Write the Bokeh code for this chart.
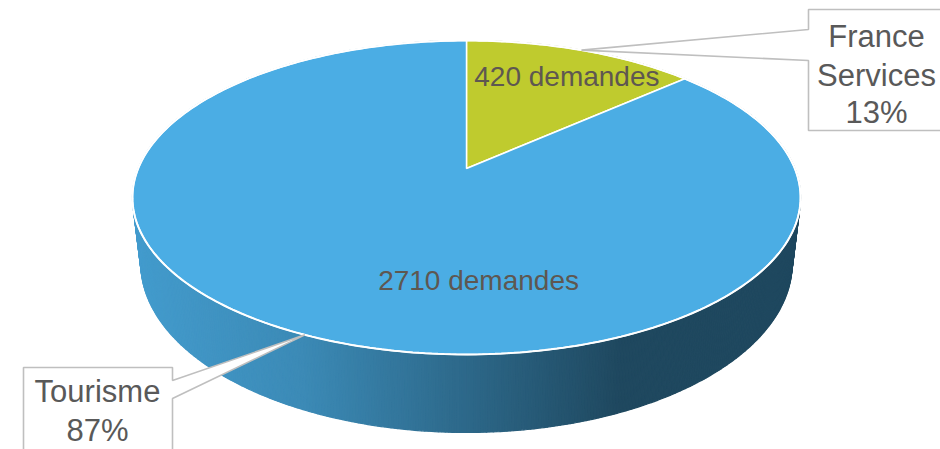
import numpy as np
from bokeh.plotting import figure
from bokeh.models import Range1d
from bokeh.embed import file_html
from bokeh.resources import INLINE
from bokeh.core.properties import value

# ---- data ----
categories = ["France Services", "Tourisme"]
demandes = [420, 2710]
slice_colors = ["#BFCB2E", "#4BADE4"]
label_suffix = " demandes"

# ---- style / geometry ----
W, H = 940, 449
CX, CY = 466.0, 168.0      # projected centre of the top face
A, B = 328.3, 151.6        # radii
K = 0.1847                 # perspective factor
DEPTH = 63.6               # thickness
SHRINK = 0.975             # horizontal shrink of bottom rim
FONT = "Liberation Sans"
TEXT_DY = -10              # baseline correction

def top(theta_deg, r=1.0):
    t = np.radians(theta_deg)
    u, v = r * np.sin(t), r * np.cos(t)
    w = 1 + K * v
    return CX + A * u / w, CY - B * v / w

def bot(theta_deg):
    x, y = top(theta_deg)
    w = 1 + K * np.cos(np.radians(theta_deg))
    return CX + (x - CX) * SHRINK, y + DEPTH / w

def hex_to_rgb(h):
    h = h.lstrip("#")
    return [int(h[i:i + 2], 16) for i in (0, 2, 4)]

def shade(base, x):
    f = np.interp(x, [132, 300, 620], [0.9, 0.8, 0.42])
    r, g, b = [int(max(0, min(255, c * f))) for c in hex_to_rgb(base)]
    return "#%02x%02x%02x" % (r, g, b)

total = sum(demandes)
shares = [d / total for d in demandes]
bounds = np.concatenate([[0], np.cumsum(shares) * 360])

p = figure(width=W, height=H, x_range=Range1d(0, W), y_range=Range1d(H, 0),
           output_backend="svg", toolbar_location=None, min_border=0)
p.axis.visible = False
p.grid.visible = False
p.outline_line_color = None
p.background_fill_color = "white"
p.border_fill_color = "white"

# ---- side wall (gradient strips) ----
sxs, sys_, scs = [], [], []
for i, c in enumerate(slice_colors):
    th = np.linspace(bounds[i], bounds[i + 1], max(3, int((bounds[i + 1] - bounds[i]) * 2)))
    for a0, a1 in zip(th[:-1], th[1:]):
        x0, y0 = top(a0); x1, y1 = top(a1)
        bx0, by0 = bot(a0); bx1, by1 = bot(a1)
        sxs.append([x0, x1, bx1, bx0]); sys_.append([y0, y1, by1, by0])
        scs.append(shade(c, (x0 + x1) / 2))
p.patches(sxs, sys_, fill_color=scs, line_color=scs, line_width=1.2)

# ---- top face slices ----
txs, tys = [], []
for i in range(len(demandes)):
    th = np.linspace(bounds[i], bounds[i + 1], 200)
    xs, ys = top(th)
    txs.append([CX] + list(xs)); tys.append([CY] + list(ys))
p.patches(txs, tys, fill_color=slice_colors, line_color="white", line_width=1.5)
rx, ry = top(np.linspace(0, 360, 400))
p.line(rx, ry, line_color="white", line_width=2)

# ---- data labels ----
label_r = [0.765, 0.65]
label_shift = [2.6, -27.0]
lx, ly, lt = [], [], []
for i, d in enumerate(demandes):
    mid = (bounds[i] + bounds[i + 1]) / 2 + label_shift[i]
    x, y = top(mid, label_r[i])
    lx.append(x); ly.append(y + 10 + TEXT_DY); lt.append(f"{d}{label_suffix}")
p.text(lx, ly, text=lt, text_font=value(FONT), text_font_size="28px",
       text_color="#5E5751", text_align="center", text_baseline="alphabetic")

# ---- callouts ----
pcts = [f"{round(s * 100)}%" for s in shares]
mids = [(bounds[i] + bounds[i + 1]) / 2 for i in range(len(demandes))]
tip0 = top(mids[0]); tip1 = top(mids[1])
cxs = [[808, 946, 946, 808, 808, tip0[0], 808],
       [23, 172, 172, tip1[0], 172, 172, 23]]
cys = [[9, 9, 130, 130, 60, tip0[1], 29],
       [367, 367, 380, tip1[1], 398, 460, 460]]
p.patches(cxs, cys, fill_color="white", line_color="#BFBFBF", line_width=1.6)

cat0 = categories[0].split(" ")
p.text([876, 876, 876], [46 + TEXT_DY, 85 + TEXT_DY, 122 + TEXT_DY], text=cat0 + [pcts[0]],
       text_font=value(FONT), text_font_size="31px", text_color="#595959",
       text_align="center", text_baseline="alphabetic")
p.text([97, 97], [401 + TEXT_DY, 440 + TEXT_DY], text=[categories[1], pcts[1]],
       text_font=value(FONT), text_font_size="31px", text_color="#595959",
       text_align="center", text_baseline="alphabetic")

open("out.html", "w").write(file_html(p, INLINE))
